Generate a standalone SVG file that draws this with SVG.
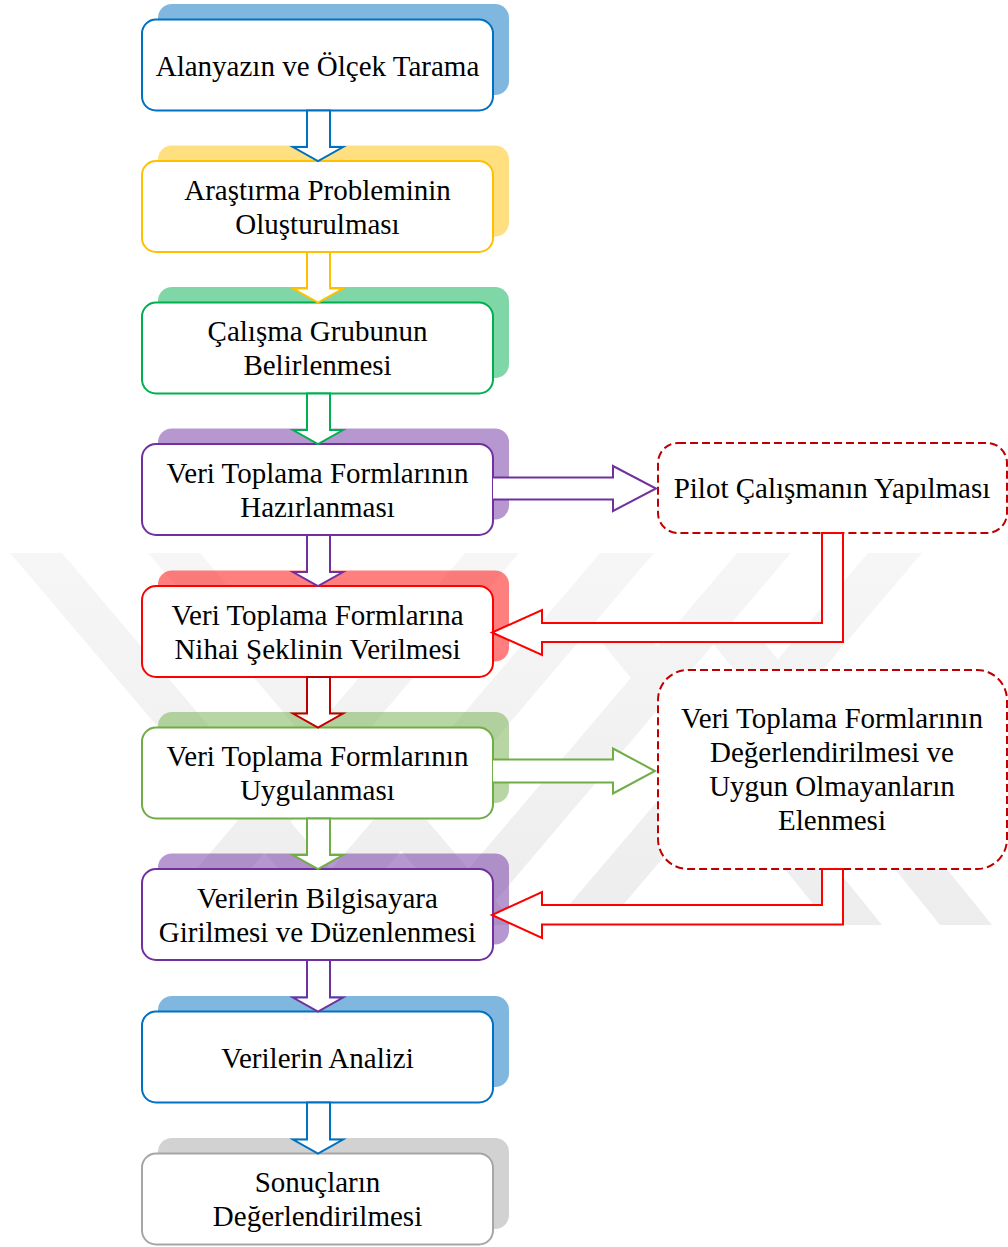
<svg xmlns="http://www.w3.org/2000/svg" width="1008" height="1247" viewBox="0 0 1008 1247">
<style>
.box{fill:#fff;stroke-width:2}
.sh{opacity:0.5}
.dash{fill:#fff;stroke:#c00000;stroke-width:2;stroke-dasharray:8 4}
.t{font-family:"Liberation Serif","Times New Roman",serif;font-size:29px;fill:#000;text-anchor:middle}
.ar{fill:#fff;stroke-width:2;stroke-linejoin:miter}
.wm{fill:url(#wmg)}
</style>
<defs>
<linearGradient id="wmg" x1="0" y1="553" x2="0" y2="925" gradientUnits="userSpaceOnUse">
<stop offset="0" stop-color="#f6f6f6"/>
<stop offset="1" stop-color="#ededed"/>
</linearGradient>
<clipPath id="wmclip"><rect x="0" y="553" width="1008" height="372"/></clipPath>
</defs>
<rect width="1008" height="1247" fill="#fff"/>
<g id="watermark" clip-path="url(#wmclip)">
<polygon class="wm" points="10,553 62,553 378,925 326,925"/>
<polygon class="wm" points="148,553 200,553 516,925 464,925"/>
<polygon class="wm" points="465,553 519,553 203,925 149,925"/>
<polygon class="wm" points="600,553 654,553 338,925 284,925"/>
<polygon class="wm" points="737,553 791,553 475,925 421,925"/>
<polygon class="wm" points="868,553 922,553 606,925 552,925"/>
<polygon class="wm" points="600,640 652,640 882,925 830,925"/>
<polygon class="wm" points="710,640 762,640 992,925 940,925"/>
</g>
<g id="nodes">
<g id="n1">
<rect class="sh" x="158" y="4" width="351" height="91" rx="14" fill="#0070c0"/>
<rect class="box" x="142" y="19.5" width="351" height="91" rx="14" stroke="#0070c0"/>
<text class="t" x="317.5" y="76">Alanyazın ve Ölçek Tarama</text>
</g>
<g id="n2">
<rect class="sh" x="158" y="145.5" width="351" height="91" rx="14" fill="#ffc000"/>
<rect class="box" x="142" y="161" width="351" height="91" rx="14" stroke="#ffc000"/>
<text class="t" x="317.5" y="199.5">Araştırma Probleminin</text>
<text class="t" x="317.5" y="233.5">Oluşturulması</text>
</g>
<g id="n3">
<rect class="sh" x="158" y="287" width="351" height="91" rx="14" fill="#00b050"/>
<rect class="box" x="142" y="302.5" width="351" height="91" rx="14" stroke="#00b050"/>
<text class="t" x="317.5" y="341">Çalışma Grubunun</text>
<text class="t" x="317.5" y="375">Belirlenmesi</text>
</g>
<g id="n4">
<rect class="sh" x="158" y="428.5" width="351" height="91" rx="14" fill="#7030a0"/>
<rect class="box" x="142" y="444" width="351" height="91" rx="14" stroke="#7030a0"/>
<text class="t" x="317.5" y="482.5">Veri Toplama Formlarının</text>
<text class="t" x="317.5" y="516.5">Hazırlanması</text>
</g>
<g id="n5">
<rect class="sh" x="158" y="570.5" width="351" height="91" rx="14" fill="#ff0000"/>
<rect class="box" x="142" y="586" width="351" height="91" rx="14" stroke="#ff0000"/>
<text class="t" x="317.5" y="624.5">Veri Toplama Formlarına</text>
<text class="t" x="317.5" y="658.5">Nihai Şeklinin Verilmesi</text>
</g>
<g id="n6">
<rect class="sh" x="158" y="712" width="351" height="91" rx="14" fill="#70ad47"/>
<rect class="box" x="142" y="727.5" width="351" height="91" rx="14" stroke="#70ad47"/>
<text class="t" x="317.5" y="766">Veri Toplama Formlarının</text>
<text class="t" x="317.5" y="800">Uygulanması</text>
</g>
<g id="n7">
<rect class="sh" x="158" y="853.5" width="351" height="91" rx="14" fill="#7030a0"/>
<rect class="box" x="142" y="869" width="351" height="91" rx="14" stroke="#7030a0"/>
<text class="t" x="317.5" y="907.5">Verilerin Bilgisayara</text>
<text class="t" x="317.5" y="941.5">Girilmesi ve Düzenlenmesi</text>
</g>
<g id="n8">
<rect class="sh" x="158" y="996" width="351" height="91" rx="14" fill="#0070c0"/>
<rect class="box" x="142" y="1011.5" width="351" height="91" rx="14" stroke="#0070c0"/>
<text class="t" x="317.5" y="1067.5">Verilerin Analizi</text>
</g>
<g id="n9">
<rect class="sh" x="158" y="1138" width="351" height="91" rx="14" fill="#a6a6a6"/>
<rect class="box" x="142" y="1153.5" width="351" height="91" rx="14" stroke="#a6a6a6"/>
<text class="t" x="317.5" y="1192">Sonuçların</text>
<text class="t" x="317.5" y="1226">Değerlendirilmesi</text>
</g>
<g id="pilot">
<rect class="dash" x="658" y="443" width="349" height="90" rx="20"/>
<text class="t" x="832" y="498">Pilot Çalışmanın Yapılması</text>
</g>
<g id="eval">
<rect class="dash" x="658" y="670" width="349" height="199" rx="30"/>
<text class="t" x="832" y="728">Veri Toplama Formlarının</text>
<text class="t" x="832" y="762">Değerlendirilmesi ve</text>
<text class="t" x="832" y="796">Uygun Olmayanların</text>
<text class="t" x="832" y="830">Elenmesi</text>
</g>
</g>
<g id="connectors">
<path class="ar" stroke="#0070c0" d="M307,110.5 L307,147 L293,147 L318,161 L343,147 L330,147 L330,110.5 Z"/>
<path class="ar" stroke="#ffc000" d="M307,252 L307,288.5 L293,288.5 L318,302.5 L343,288.5 L330,288.5 L330,252 Z"/>
<path class="ar" stroke="#00b050" d="M307,393.5 L307,430 L293,430 L318,444 L343,430 L330,430 L330,393.5 Z"/>
<path class="ar" stroke="#7030a0" d="M307,535 L307,572 L293,572 L318,586 L343,572 L330,572 L330,535 Z"/>
<path class="ar" stroke="#c00000" d="M307,677 L307,713.5 L293,713.5 L318,727.5 L343,713.5 L330,713.5 L330,677 Z"/>
<path class="ar" stroke="#70ad47" d="M307,818.5 L307,855 L293,855 L318,869 L343,855 L330,855 L330,818.5 Z"/>
<path class="ar" stroke="#7030a0" d="M307,960 L307,997.5 L293,997.5 L318,1011.5 L343,997.5 L330,997.5 L330,960 Z"/>
<path class="ar" stroke="#0070c0" d="M307,1102.5 L307,1139.5 L293,1139.5 L318,1153.5 L343,1139.5 L330,1139.5 L330,1102.5 Z"/>
<path class="ar" stroke="#7030a0" d="M493,477.5 L613,477.5 L613,466 L656,488.5 L613,511 L613,499.5 L493,499.5"/>
<path class="ar" stroke="#70ad47" d="M493,759.5 L613,759.5 L613,748.5 L655,771 L613,793.5 L613,782.5 L493,782.5"/>
<path class="ar" stroke="#ff0000" d="M822,533 L822,623 L542,623 L542,610 L492,632.5 L542,655 L542,642 L843,642 L843,533 Z"/>
<path class="ar" stroke="#ff0000" d="M822,869 L822,905 L542,905 L542,892 L492,915 L542,938 L542,924.5 L843,924.5 L843,869 Z"/>
</g>
</svg>
